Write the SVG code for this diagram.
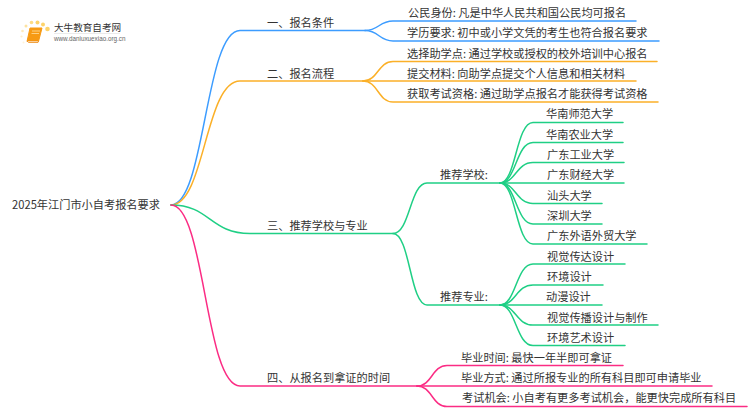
<svg xmlns="http://www.w3.org/2000/svg" width="750" height="410" viewBox="0 0 750 410">
<style>
text{font-family:"Noto Sans CJK SC","Liberation Sans",sans-serif;font-size:11.2px;fill:#333}
.c{fill:none;stroke-width:1.5;stroke-linecap:round}
.b{stroke:#3c9cff}.o{stroke:#fbb028}.g{stroke:#1fcf85}.p{stroke:#fb2c84}
</style>
<rect width="750" height="410" fill="#fff"/>
<g id="connectors">
<path class="c b" d="M171 205C205 205 205 30.500 240 30.500H365"/>
<path class="c b" d="M365 30.500C379 30.500 379 21 393 21H636"/>
<path class="c b" d="M365 30.500C379 30.500 379 41 393 41H659"/>
<path class="c o" d="M171 205C205 205 205 81 240 81H363"/>
<path class="c o" d="M363 81C378 81 378 61.500 393 61.500H657"/>
<path class="c o" d="M363 81H636"/>
<path class="c o" d="M363 81C378 81 378 102 393 102H658"/>
<path class="c g" d="M171 205C210 205 210 233.500 250 233.500H393"/>
<path class="c g" d="M393 233.500C410 233.500 410 183 427 183H500"/>
<path class="c g" d="M393 233.500C410 233.500 410 305 427 305H500"/>
<path class="c g" d="M500 183C516 183 516 122.500 533 122.500H623"/>
<path class="c g" d="M500 183C516 183 516 142.500 533 142.500H623"/>
<path class="c g" d="M500 183C516 183 516 162.500 533 162.500H624"/>
<path class="c g" d="M500 183H624"/>
<path class="c g" d="M500 183C516 183 516 203.500 533 203.500H602"/>
<path class="c g" d="M500 183C516 183 516 224 533 224H602"/>
<path class="c g" d="M500 183C516 183 516 244 533 244H647"/>
<path class="c g" d="M500 305C516 305 516 264 533 264H625"/>
<path class="c g" d="M500 305C516 305 516 285 533 285H603"/>
<path class="c g" d="M500 305H602"/>
<path class="c g" d="M500 305C516 305 516 325 533 325H658"/>
<path class="c g" d="M500 305C516 305 516 345.500 533 345.500H625"/>
<path class="c p" d="M171 205C205 205 205 386 240 386H417"/>
<path class="c p" d="M417 386C432 386 432 365.500 447 365.500H623"/>
<path class="c p" d="M417 386H712"/>
<path class="c p" d="M417 386C432 386 432 406.500 447 406.500H747"/>
</g>
<g id="root"><text x="12" y="209">2025年江门市小自考报名要求</text></g>
<g id="n1"><text x="267" y="27">一、报名条件</text></g>
<g id="n1a"><text x="408" y="17">公民身份: 凡是中华人民共和国公民均可报名</text></g>
<g id="n1b"><text x="407" y="37">学历要求: 初中或小学文凭的考生也符合报名要求</text></g>
<g id="n2"><text x="267" y="78">二、报名流程</text></g>
<g id="n2a"><text x="407" y="58">选择助学点: 通过学校或授权的校外培训中心报名</text></g>
<g id="n2b"><text x="407" y="78">提交材料: 向助学点提交个人信息和相关材料</text></g>
<g id="n2c"><text x="407" y="98">获取考试资格: 通过助学点报名才能获得考试资格</text></g>
<g id="n3"><text x="267" y="230">三、推荐学校与专业</text></g>
<g id="n3a"><text x="440" y="179">推荐学校:</text></g>
<g id="s1"><text x="546" y="118">华南师范大学</text></g>
<g id="s2"><text x="546" y="139">华南农业大学</text></g>
<g id="s3"><text x="547" y="159">广东工业大学</text></g>
<g id="s4"><text x="547" y="179">广东财经大学</text></g>
<g id="s5"><text x="547" y="200">汕头大学</text></g>
<g id="s6"><text x="547" y="220">深圳大学</text></g>
<g id="s7"><text x="547" y="240">广东外语外贸大学</text></g>
<g id="n3b"><text x="440" y="301">推荐专业:</text></g>
<g id="m1"><text x="547" y="261">视觉传达设计</text></g>
<g id="m2"><text x="547" y="281">环境设计</text></g>
<g id="m3"><text x="546" y="301">动漫设计</text></g>
<g id="m4"><text x="547" y="322">视觉传播设计与制作</text></g>
<g id="m5"><text x="547" y="342">环境艺术设计</text></g>
<g id="n4"><text x="267" y="382">四、从报名到拿证的时间</text></g>
<g id="n4a"><text x="461" y="362">毕业时间: 最快一年半即可拿证</text></g>
<g id="n4b"><text x="461" y="382">毕业方式: 通过所报专业的所有科目即可申请毕业</text></g>
<g id="n4c"><text x="462" y="402">考试机会: 小自考有更多考试机会，能更快完成所有科目</text></g>
<g id="logo">
<circle cx="47.500" cy="29" r="2.300" fill="#fdd36a"/><circle cx="43" cy="24.500" r="2" fill="#fdd36a"/><circle cx="37.500" cy="22.500" r="2" fill="#fdd36a"/><circle cx="31.500" cy="22.500" r="1.800" fill="#fddc85"/><circle cx="26" cy="26" r="1.500" fill="#fde3a0"/><circle cx="22.500" cy="31" r="1.300" fill="#feeabb"/><circle cx="21.500" cy="36.500" r="1.100" fill="#feefcc"/><circle cx="23.500" cy="42.500" r="1" fill="#fff3da"/>
<path d="M30 28H42L38.500 41.500H27Z" fill="#f79a13" stroke="#f79a13" stroke-linejoin="round"/><path d="M27 41H38.500L38 42.500H28.500Z" fill="#fff" stroke="#ee8a10" stroke-width=".8"/><path d="M32 31H40M31.500 33.500H39" stroke="#ffe0a0" stroke-width=".8"/>
<text x="54" y="31" style="font-size:9.600px">大牛教育自考网</text>
<path d="M54 33.500H120" stroke="#ddd" stroke-width=".6"/>
<text x="54" y="41" style="font-size:6.300px;font-family:'Liberation Sans',sans-serif;fill:#666">www.daniuxuexiao.org.cn</text>
</g>
</svg>
